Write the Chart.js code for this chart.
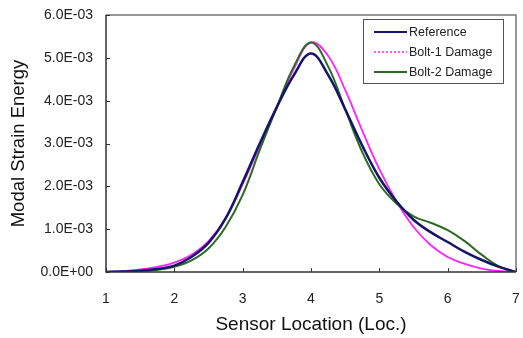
<!DOCTYPE html>
<html lang="en">
<head>
  <meta charset="UTF-8" />
  <title>Modal Strain Energy</title>
  <script src="https://cdn.jsdelivr.net/npm/chart.js"></script>
  <style>
    html, body { margin: 0; padding: 0; background: #fff; }
    #wrap { width: 523px; height: 338px; }
  </style>
</head>
<body>
  <div id="wrap"><canvas id="mseChart" width="523" height="338"></canvas></div>

  <script>
    // sensor positions (Loc.)
    const locations = [1, 1.25, 1.5, 1.75, 2, 2.25, 2.5, 2.75, 3, 3.25, 3.5, 3.75, 4,
                       4.25, 4.5, 4.75, 5, 5.25, 5.5, 5.75, 6, 6.25, 6.5, 6.75, 7];

    // modal strain energy, in units of 1E-03
    const reference = [0, 0.01, 0.03, 0.07, 0.15, 0.35, 0.68, 1.25, 2.1, 3.0, 3.85, 4.6, 5.1,
                       4.6, 3.8, 2.95, 2.2, 1.65, 1.22, 0.93, 0.7, 0.47, 0.28, 0.12, 0];
    const bolt1Damage = [0, 0.02, 0.06, 0.12, 0.22, 0.4, 0.72, 1.25, 2.05, 2.95, 3.85, 4.75, 5.36,
                         5.05, 4.25, 3.3, 2.4, 1.65, 1.05, 0.63, 0.35, 0.19, 0.08, 0.02, 0];
    const bolt2Damage = [0, 0.01, 0.02, 0.05, 0.12, 0.27, 0.55, 1.05, 1.8, 2.85, 3.85, 4.8, 5.36,
                         4.8, 3.8, 2.8, 2.05, 1.6, 1.3, 1.15, 0.98, 0.72, 0.4, 0.13, 0];

    const xTickLabels = ['1', '2', '3', '4', '5', '6', '7'];
    const yTickLabels = ['0.0E+00', '1.0E-03', '2.0E-03', '3.0E-03', '4.0E-03', '5.0E-03', '6.0E-03'];

    const toPoints = vals => vals.map((v, i) => ({ x: locations[i], y: v }));

    // frame + inward ticks
    const framePlugin = {
      id: 'frame',
      afterDraw(chart) {
        const { ctx, chartArea: a, scales } = chart;
        ctx.save();
        ctx.lineWidth = 1.5;
        ctx.strokeStyle = '#777';
        ctx.beginPath();
        ctx.moveTo(a.left, a.top);
        ctx.lineTo(a.right, a.top);
        ctx.lineTo(a.right, a.bottom);
        ctx.stroke();
        ctx.strokeStyle = '#333';
        ctx.beginPath();
        ctx.moveTo(a.left, a.top);
        ctx.lineTo(a.left, a.bottom);
        ctx.lineTo(a.right, a.bottom);
        ctx.stroke();
        ctx.lineWidth = 1;
        ctx.beginPath();
        scales.y.ticks.forEach(t => {
          const py = Math.round(scales.y.getPixelForValue(t.value)) + 0.5;
          ctx.moveTo(a.left, py);
          ctx.lineTo(a.left + 4, py);
        });
        scales.x.ticks.forEach(t => {
          const px = Math.round(scales.x.getPixelForValue(t.value)) + 0.5;
          ctx.moveTo(px, a.bottom);
          ctx.lineTo(px, a.bottom - 4);
        });
        ctx.stroke();
        ctx.restore();
      }
    };

    // boxed legend in the top right corner of the plot
    const boxLegend = {
      id: 'boxLegend',
      afterDraw(chart) {
        const { ctx, chartArea: a } = chart;
        const x0 = a.right - 153, y0 = a.top + 4, w = 140, h = 64;
        ctx.save();
        ctx.fillStyle = '#fff';
        ctx.fillRect(x0, y0, w, h);
        ctx.strokeStyle = '#555';
        ctx.lineWidth = 1;
        ctx.strokeRect(x0 + 0.5, y0 + 0.5, w, h);
        ctx.font = '12.5px "Liberation Sans", Arial, sans-serif';
        ctx.textBaseline = 'middle';
        chart.data.datasets.forEach((ds, i) => {
          const yy = y0 + 13 + i * 20;
          ctx.strokeStyle = ds.borderColor;
          ctx.lineWidth = i === 1 ? 1.5 : 2;
          ctx.setLineDash(i === 1 ? [2, 2] : []);
          ctx.beginPath();
          ctx.moveTo(x0 + 11, yy);
          ctx.lineTo(x0 + 44, yy);
          ctx.stroke();
          ctx.setLineDash([]);
          ctx.fillStyle = '#222';
          ctx.fillText(ds.label, x0 + 46, yy + 1);
        });
        ctx.restore();
      }
    };

    const ctx = document.getElementById('mseChart').getContext('2d');

    new Chart(ctx, {
      type: 'line',
      data: {
        datasets: [
          {
            label: 'Reference',
            data: toPoints(reference),
            borderColor: '#14146b',
            borderWidth: 2.5,
            pointRadius: 0,
            tension: 0.4,
            order: 0
          },
          {
            label: 'Bolt-1 Damage',
            data: toPoints(bolt1Damage),
            borderColor: '#ff22ff',
            borderWidth: 1.8,
            pointRadius: 0,
            tension: 0.4,
            order: 2
          },
          {
            label: 'Bolt-2 Damage',
            data: toPoints(bolt2Damage),
            borderColor: '#2a6a22',
            borderWidth: 2,
            pointRadius: 0,
            tension: 0.4,
            order: 1
          }
        ]
      },
      options: {
        responsive: false,
        animation: false,
        layout: { padding: { top: 15, right: 7, left: 0, bottom: 0 } },
        plugins: {
          legend: { display: false },
          tooltip: { enabled: false }
        },
        scales: {
          x: {
            type: 'linear',
            min: 1,
            max: 7,
            grid: { display: false },
            border: { display: false },
            afterFit: s => { s.height = 66; s.paddingLeft = 0; s.paddingRight = 0; },
            ticks: {
              stepSize: 1,
              padding: 11,
              color: '#222',
              font: { family: '"Liberation Sans", Arial, sans-serif', size: 14 },
              callback: (v, i) => xTickLabels[i]
            },
            title: {
              display: true,
              text: 'Sensor Location (Loc.)',
              color: '#111',
              padding: { top: 0, bottom: 2 },
              font: { family: '"Liberation Sans", Arial, sans-serif', size: 19 }
            }
          },
          y: {
            min: 0,
            max: 6,
            grid: { display: false },
            border: { display: false },
            afterFit: s => { s.width = 106; s.paddingTop = 0; s.paddingBottom = 0; },
            ticks: {
              stepSize: 1,
              padding: 5,
              color: '#222',
              font: { family: '"Liberation Sans", Arial, sans-serif', size: 14 },
              callback: (v, i) => yTickLabels[i]
            },
            title: {
              display: true,
              text: 'Modal Strain Energy',
              color: '#111',
              padding: { top: 8, bottom: 0 },
              font: { family: '"Liberation Sans", Arial, sans-serif', size: 18.5 }
            }
          }
        }
      },
      plugins: [framePlugin, boxLegend]
    });
  </script>
</body>
</html>
